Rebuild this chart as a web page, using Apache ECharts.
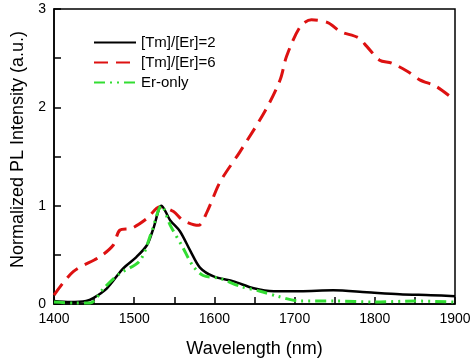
<!DOCTYPE html>
<html><head><meta charset="utf-8">
<script src="https://cdn.jsdelivr.net/npm/echarts@6/dist/echarts.min.js"></script>
<style>html,body{margin:0;padding:0;background:#fff}#c{width:474px;height:363px}</style>
</head><body><div id="c"></div>
<script>
var seriesNames = ['[Tm]/[Er]=2', '[Tm]/[Er]=6', 'Er-only'];
var xTicks = [1400, 1500, 1600, 1700, 1800, 1900];
var yTicks = [0, 1, 2, 3];
var tmEr2 = [[1400,0.03],[1420,0.02],[1440,0.03],[1449,0.06],[1466,0.16],[1486,0.36],[1503,0.48],[1516,0.6],[1524,0.77],[1534,1.0],[1545,0.85],[1557,0.74],[1570,0.54],[1582,0.37],[1599,0.28],[1624,0.23],[1649,0.16],[1674,0.13],[1707,0.13],[1748,0.14],[1790,0.12],[1831,0.1],[1870,0.09],[1900,0.08]];
var tmEr6 = [[1400,0.09],[1424,0.33],[1457,0.48],[1474,0.6],[1482,0.75],[1497,0.77],[1516,0.87],[1532,0.99],[1549,0.94],[1561,0.85],[1580,0.8],[1591,0.94],[1607,1.24],[1632,1.55],[1663,1.96],[1682,2.28],[1690,2.52],[1707,2.82],[1721,2.89],[1742,2.86],[1757,2.77],[1779,2.71],[1790,2.62],[1806,2.48],[1821,2.45],[1842,2.36],[1856,2.28],[1877,2.21],[1900,2.07]];
var erOnly = [[1400,0.02],[1425,0.01],[1445,0.01],[1462,0.16],[1482,0.31],[1507,0.44],[1522,0.74],[1534,1.0],[1545,0.8],[1561,0.57],[1573,0.39],[1586,0.29],[1607,0.26],[1632,0.18],[1657,0.13],[1678,0.08],[1707,0.03],[1750,0.03],[1800,0.02],[1850,0.03],[1900,0.02]];

var chart = echarts.init(document.getElementById('c'));
var font = 'Liberation Sans, Arial, sans-serif';
chart.setOption({
  animation: false,
  grid: {left: 54, right: 19, top: 9, bottom: 57, show: true, borderColor: '#000', borderWidth: 1.5, backgroundColor: 'transparent'},
  legend: {
    left: 88, top: 30, orient: 'vertical', itemWidth: 42, itemHeight: 14, itemGap: 5,
    itemStyle: {opacity: 0},
    textStyle: {fontFamily: font, fontSize: 15, color: '#000'},
    data: seriesNames
  },
  xAxis: {
    type: 'value', min: 1400, max: 1900, interval: 50,
    name: 'Wavelength (nm)', nameLocation: 'middle', nameGap: 36,
    nameTextStyle: {fontFamily: font, fontSize: 18, color: '#000'},
    axisLine: {lineStyle: {color: '#000', width: 1.5}},
    axisTick: {inside: true, length: 7, lineStyle: {color: '#000', width: 1.5}},
    axisLabel: {fontFamily: font, fontSize: 14, color: '#000', margin: 8,
      formatter: function(v){ return xTicks.indexOf(v) >= 0 ? String(v) : ''; }},
    splitLine: {show: false}
  },
  yAxis: {
    type: 'value', min: 0, max: 3, interval: 0.5,
    name: 'Normalized PL Intensity (a.u.)', nameLocation: 'middle', nameGap: 26,
    nameTextStyle: {fontFamily: font, fontSize: 18, color: '#000', padding: [0, 0, 0, 14]},
    axisLine: {lineStyle: {color: '#000', width: 1.5}},
    axisTick: {inside: true, length: 7, lineStyle: {color: '#000', width: 1.5}},
    axisLabel: {fontFamily: font, fontSize: 14, color: '#000', margin: 8,
      formatter: function(v){ return yTicks.indexOf(v) >= 0 ? String(v) : ''; }},
    splitLine: {show: false}
  },
  series: [
    {name: seriesNames[0], type: 'line', data: tmEr2, symbol: 'none', smooth: 0.3, z: 3,
     lineStyle: {color: '#000', width: 2.5}, itemStyle: {color: '#000'}},
    {name: seriesNames[1], type: 'line', data: tmEr6, symbol: 'none', smooth: 0.3, z: 2,
     lineStyle: {color: '#dd1111', width: 3, type: [14, 8]}, itemStyle: {color: '#dd1111'}},
    {name: seriesNames[2], type: 'line', data: erOnly, symbol: 'none', smooth: 0.3, z: 4,
     lineStyle: {color: '#33dd33', width: 3, type: [11, 5, 2, 5, 2, 5]}, itemStyle: {color: '#33dd33'}}
  ]
});
</script></body></html>
